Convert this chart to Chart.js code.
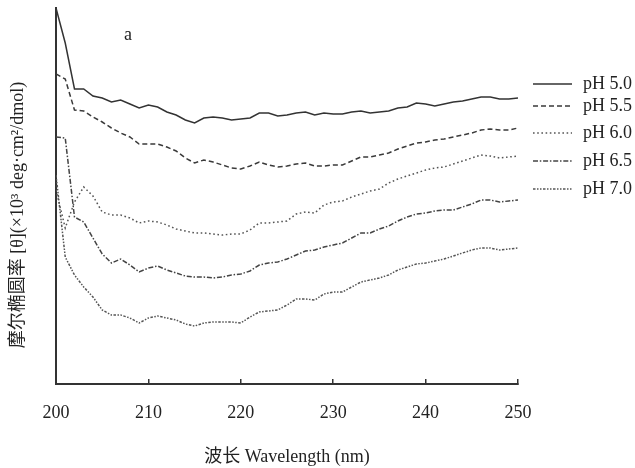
<!DOCTYPE html>
<html>
<head>
<meta charset="utf-8">
<script src="https://cdn.jsdelivr.net/npm/chart.js@4"></script>
<style>
  html, body { margin: 0; padding: 0; background: #fff; }
  #wrap { width: 635px; height: 468px; }
</style>
</head>
<body>
<div id="wrap"><canvas id="cd"></canvas></div>
<script>
// 圆二色谱 (CD) 曲线, 不同 pH
var wavelength = [
  200, 201, 202, 203, 204, 205, 206, 207, 208, 209, 210,
  211, 212, 213, 214, 215, 216, 217, 218, 219, 220,
  221, 222, 223, 224, 225, 226, 227, 228, 229, 230,
  231, 232, 233, 234, 235, 236, 237, 238, 239, 240,
  241, 242, 243, 244, 245, 246, 247, 248, 249, 250,
];
var ph50 = [
  -0.8, -4.3, -8.9, -8.9, -9.6, -9.8, -10.2, -10.0, -10.4, -10.8, -10.5,
  -10.7, -11.2, -11.5, -12.0, -12.3, -11.8, -11.7, -11.8, -12.0, -11.9,
  -11.8, -11.3, -11.3, -11.6, -11.5, -11.3, -11.2, -11.5, -11.3, -11.4,
  -11.4, -11.2, -11.1, -11.3, -11.2, -11.1, -10.8, -10.7, -10.3, -10.4,
  -10.6, -10.4, -10.2, -10.1, -9.9, -9.7, -9.7, -9.9, -9.9, -9.8,
];
var ph55 = [
  -7.4, -7.9, -11.0, -11.1, -11.7, -12.2, -12.8, -13.3, -13.7, -14.4, -14.4,
  -14.4, -14.7, -15.1, -15.8, -16.3, -16.0, -16.2, -16.5, -16.8, -16.9,
  -16.6, -16.2, -16.5, -16.7, -16.6, -16.4, -16.3, -16.6, -16.6, -16.5,
  -16.5, -16.1, -15.7, -15.7, -15.5, -15.3, -14.9, -14.6, -14.3, -14.2,
  -14.0, -13.9, -13.7, -13.5, -13.3, -13.0, -12.9, -13.0, -13.0, -12.8,
];
var ph60 = [
  -19.0, -22.8, -20.2, -18.7, -19.6, -21.2, -21.5, -21.5, -21.8, -22.3, -22.1,
  -22.2, -22.5, -22.9, -23.1, -23.3, -23.3, -23.4, -23.5, -23.4, -23.4,
  -23.0, -22.3, -22.3, -22.2, -22.1, -21.4, -21.2, -21.3, -20.5, -20.2,
  -20.1, -19.7, -19.4, -19.1, -18.9, -18.3, -17.9, -17.6, -17.3, -17.0,
  -16.8, -16.7, -16.4, -16.1, -15.8, -15.5, -15.6, -15.8, -15.7, -15.6,
];
var ph65 = [
  -13.7, -13.8, -21.7, -22.2, -23.8, -25.4, -26.3, -25.9, -26.5, -27.2, -26.8,
  -26.6, -27.0, -27.3, -27.6, -27.7, -27.7, -27.8, -27.7, -27.5, -27.4,
  -27.1, -26.5, -26.3, -26.2, -25.9, -25.5, -25.1, -25.0, -24.7, -24.5,
  -24.3, -23.8, -23.3, -23.3, -22.9, -22.6, -22.1, -21.7, -21.4, -21.3,
  -21.1, -21.0, -21.0, -20.7, -20.4, -20.0, -20.0, -20.2, -20.1, -20.0,
];
var ph70 = [
  -17.5, -25.7, -27.5, -28.7, -29.7, -31.0, -31.5, -31.5, -31.8, -32.3, -31.8,
  -31.6, -31.8, -32.0, -32.4, -32.6, -32.3, -32.2, -32.2, -32.2, -32.3,
  -31.7, -31.2, -31.1, -31.0, -30.5, -29.9, -29.9, -30.0, -29.4, -29.2,
  -29.2, -28.7, -28.2, -28.0, -27.8, -27.5, -27.0, -26.7, -26.4, -26.3,
  -26.1, -25.9, -25.6, -25.3, -25.0, -24.8, -24.8, -25.0, -24.9, -24.8,
];
var xTicks = [200, 210, 220, 230, 240, 250];
var yTitle = "摩尔椭圆率 [θ](×10³ deg·cm²/dmol)";
var serif = '"Liberation Serif", "DejaVu Serif", "Noto Sans CJK SC", serif';

function pts(vals) {
  return vals.map(function (v, i) { return { x: wavelength[i], y: v }; });
}

var cd_data = {
  datasets: [
    { label: "pH 5.0", data: pts(ph50), borderColor: "#333", borderDash: [] },
    { label: "pH 5.5", data: pts(ph55), borderColor: "#3a3a3a", borderDash: [5, 3] },
    { label: "pH 6.0", data: pts(ph60), borderColor: "#555", borderDash: [1.6, 2.6] },
    { label: "pH 6.5", data: pts(ph65), borderColor: "#444", borderDash: [5, 1.8, 1.5, 1.8] },
    { label: "pH 7.0", data: pts(ph70), borderColor: "#555", borderDash: [2.5, 1.5, 1.5, 1.5, 1.5, 1.5] },
  ],
};
cd_data.datasets.forEach(function (d) {
  d.borderWidth = 1.5;
  d.pointRadius = 0;
  d.tension = 0;
  d.fill = false;
});

// 右侧图例, 图中 "a", 纵轴标题
var legendRows = [84, 106, 133, 161, 189];
var extras = {
  id: "extras",
  afterDraw: function (chart) {
    var ctx = chart.ctx;
    ctx.save();
    ctx.font = "18px " + serif;
    ctx.fillStyle = "#222";
    ctx.textBaseline = "middle";
    ctx.fillText("a", 124, 35);
    chart.data.datasets.forEach(function (d, i) {
      var y = legendRows[i];
      ctx.beginPath();
      ctx.strokeStyle = d.borderColor;
      ctx.lineWidth = 1.5;
      ctx.setLineDash(d.borderDash);
      ctx.moveTo(533, y);
      ctx.lineTo(572, y);
      ctx.stroke();
      ctx.setLineDash([]);
      ctx.fillText(d.label, 583, y);
    });
    ctx.translate(18, 215);
    ctx.rotate(-Math.PI / 2);
    ctx.textAlign = "center";
    ctx.fillText(yTitle, 0, 0);
    ctx.restore();
  },
};

var ctx = document.getElementById("cd").getContext("2d");
var myChart = new Chart(ctx, {
  type: "line",
  data: cd_data,
  plugins: [extras],
  options: {
    responsive: true,
    maintainAspectRatio: false,
    animation: false,
    layout: { padding: { top: 8, right: 117, left: 0, bottom: 0 } },
    plugins: { legend: { display: false }, tooltip: { enabled: false } },
    scales: {
      x: {
        type: "linear",
        min: 200,
        max: 250,
        afterBuildTicks: function (s) {
          s.ticks = xTicks.map(function (v) { return { value: v }; });
        },
        afterFit: function (s) { s.height = 84; },
        grid: { drawOnChartArea: false, tickLength: -5, color: "#333", lineWidth: 1.5 },
        border: { color: "#333", width: 2 },
        ticks: { padding: 23, color: "#222", font: { family: serif, size: 18 }, maxRotation: 0 },
        title: {
          display: true,
          text: "波长 Wavelength (nm)",
          color: "#222",
          font: { family: serif, size: 18 },
          padding: { top: 0, bottom: 0 },
        },
      },
      y: {
        min: -38.4,
        max: -0.8,
        afterFit: function (s) { s.width = 56; },
        grid: { display: false },
        border: { color: "#333", width: 2 },
        ticks: { display: false },
      },
    },
  },
});
</script>
</body>
</html>
